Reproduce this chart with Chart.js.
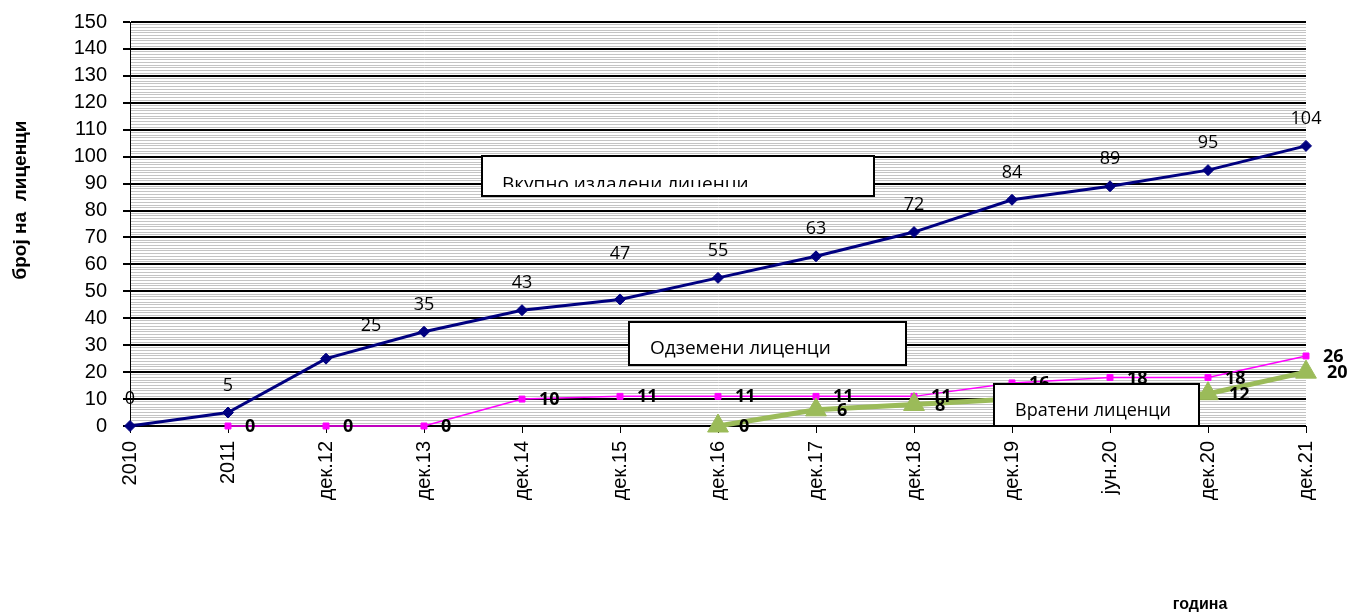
<!DOCTYPE html>
<html>
<head>
<meta charset="utf-8">
<script src="https://cdn.jsdelivr.net/npm/chart.js@4/dist/chart.umd.min.js"></script>
<style>
  html, body { margin: 0; padding: 0; background: #ffffff; }
  #wrap { width: 1355px; height: 616px; }
</style>
</head>
<body>
<div id="wrap"><canvas id="chart" width="1355" height="616"></canvas></div>
<script>
// Periods on the horizontal axis
const categories = ['2010', '2011', 'дек.12', 'дек.13', 'дек.14', 'дек.15', 'дек.16',
                    'дек.17', 'дек.18', 'дек.19', 'јун.20', 'дек.20', 'дек.21'];

// Number of licences per period
const totalIssued = [0, 5, 25, 35, 43, 47, 55, 63, 72, 84, 89, 95, 104];
const revoked     = [null, 0, 0, 0, 10, 11, 11, 11, 11, 16, 18, 18, 26];
const returned    = [null, null, null, null, null, null, 0, 6, 8, 10, 11, 12, 20];

// Series names and axis texts
const seriesNames = ['Вкупно издадени лиценци', 'Одземени лиценци', 'Вратени лиценци'];
const yTitle = 'број на  лиценци';
const xTitle = 'година';

// Value axis range and steps
const yMax = 150;
const yMajorStep = 10;
const yMinorStep = 1;

const isMajor = v => v % yMajorStep === 0;

// Value labels next to each point
const valueLabels = {
  id: 'valueLabels',
  afterDatasetsDraw(chart, args, opts) {
    const ctx = chart.ctx;
    ctx.save();
    ctx.fillStyle = '#000';
    ctx.textBaseline = 'middle';
    chart.data.datasets.forEach((ds, di) => {
      const st = opts.styles[di];
      const meta = chart.getDatasetMeta(di);
      ctx.font = st.font;
      ctx.textAlign = st.align;
      ds.data.forEach((v, i) => {
        if (v === null || v === undefined) return;
        const el = meta.data[i];
        const n = (st.nudge && st.nudge[i]) || [0, 0];
        ctx.fillText(String(v), el.x + st.dx + n[0], el.y + st.dy + n[1]);
      });
    });
    ctx.restore();
  }
};

// Framed captions for the series and the axis titles
const captions = {
  id: 'captions',
  afterDraw(chart, args, opts) {
    const ctx = chart.ctx;
    ctx.save();
    opts.boxes.forEach(b => {
      ctx.fillStyle = '#ffffff';
      ctx.fillRect(b.x, b.y, b.w, b.h);
      ctx.save();
      if (b.clipBottom) {
        ctx.beginPath();
        ctx.rect(b.x, b.y, b.w, b.clipBottom - b.y);
        ctx.clip();
      }
      ctx.fillStyle = '#000';
      ctx.font = b.font;
      ctx.textAlign = 'left';
      ctx.textBaseline = 'alphabetic';
      ctx.fillText(b.text, b.tx, b.ty);
      ctx.restore();
      ctx.strokeStyle = '#000';
      ctx.lineWidth = 2;
      ctx.strokeRect(b.x, b.y, b.w, b.h);
    });

    ctx.fillStyle = '#000';
    ctx.textAlign = 'center';
    ctx.textBaseline = 'middle';
    ctx.font = 'bold 19px "Liberation Sans", Arial, sans-serif';
    ctx.translate(21, 200);
    ctx.rotate(-Math.PI / 2);
    ctx.fillText(yTitle, 0, 0);
    ctx.setTransform(1, 0, 0, 1, 0, 0);
    ctx.font = 'bold 16px "Liberation Sans", Arial, sans-serif';
    ctx.fillText(xTitle, 1200, 605);
    ctx.restore();
  }
};

const tickFont = { family: '"Liberation Sans", Arial, sans-serif', size: 20 };

new Chart(document.getElementById('chart'), {
  type: 'line',
  data: {
    labels: categories,
    datasets: [
      {
        label: seriesNames[0],
        data: totalIssued,
        borderColor: '#000080',
        backgroundColor: '#000080',
        borderWidth: 3,
        pointStyle: 'rectRot',
        pointRadius: 5.5,
        pointBorderWidth: 1,
        tension: 0,
        clip: false,
        order: 2
      },
      {
        label: seriesNames[1],
        data: revoked,
        borderColor: '#FF00FF',
        backgroundColor: '#FF00FF',
        borderWidth: 1.5,
        pointStyle: 'rect',
        pointRadius: 4.2,
        pointBorderWidth: 1,
        tension: 0,
        clip: false,
        order: 1
      },
      {
        label: seriesNames[2],
        data: returned,
        borderColor: '#9BBB59',
        backgroundColor: '#9BBB59',
        borderWidth: 5,
        pointStyle: 'triangle',
        pointRadius: 12,
        pointBorderWidth: 1,
        tension: 0,
        clip: false,
        order: 0
      }
    ]
  },
  options: {
    responsive: false,
    animation: false,
    devicePixelRatio: 1,
    layout: { padding: { left: 0, right: 49, top: 22, bottom: 0 } },
    plugins: {
      legend: { display: false },
      title: { display: false },
      tooltip: { enabled: false },
      valueLabels: {
        styles: [
          { font: '18px "Open Sans", sans-serif', dx: 0, dy: -27, align: 'center',
            nudge: { 2: [45, -6], 5: [0, -19] } },
          { font: 'bold 18px "Open Sans", sans-serif', dx: 17, dy: 1, align: 'left' },
          { font: 'bold 18px "Open Sans", sans-serif', dx: 21, dy: 1, align: 'left' }
        ]
      },
      captions: {
        boxes: [
          { text: seriesNames[0], x: 482, y: 156, w: 392, h: 40, tx: 502, ty: 190,
            clipBottom: 187, font: '19px "Open Sans", sans-serif' },
          { text: seriesNames[1], x: 629, y: 322, w: 277, h: 43, tx: 650, ty: 354,
            font: '19px "Open Sans", sans-serif' },
          { text: seriesNames[2], x: 994, y: 384, w: 205, h: 42, tx: 1015, ty: 416,
            font: '18px "Open Sans", sans-serif' }
        ]
      }
    },
    scales: {
      x: {
        type: 'category',
        offset: false,
        grid: {
          drawOnChartArea: false,
          drawTicks: true,
          tickLength: 7,
          tickColor: '#000',
          tickWidth: 1
        },
        border: { color: '#000', width: 1 },
        ticks: {
          color: '#000',
          font: tickFont,
          minRotation: 90,
          maxRotation: 90,
          autoSkip: false,
          padding: 8
        },
        afterFit(scale) {
          scale.height = 190;
          scale.paddingTop = 0;
          scale.paddingBottom = 0;
        }
      },
      y: {
        min: 0,
        max: yMax,
        grid: {
          color: c => isMajor(c.tick.value) ? '#000000' : '#c4c4c4',
          lineWidth: c => isMajor(c.tick.value) ? 2 : 1,
          tickColor: c => isMajor(c.tick.value) ? '#000000' : 'rgba(0,0,0,0)',
          tickLength: 7,
          drawTicks: true
        },
        border: { color: '#000', width: 1 },
        ticks: {
          stepSize: yMinorStep,
          maxTicksLimit: 400,
          autoSkip: false,
          color: '#000',
          font: tickFont,
          padding: 16,
          callback: v => isMajor(v) ? String(v) : ''
        },
        afterFit(scale) {
          scale.width = 130;
          scale.paddingTop = 0;
          scale.paddingBottom = 0;
        }
      }
    }
  },
  plugins: [valueLabels, captions]
});
</script>
</body>
</html>
